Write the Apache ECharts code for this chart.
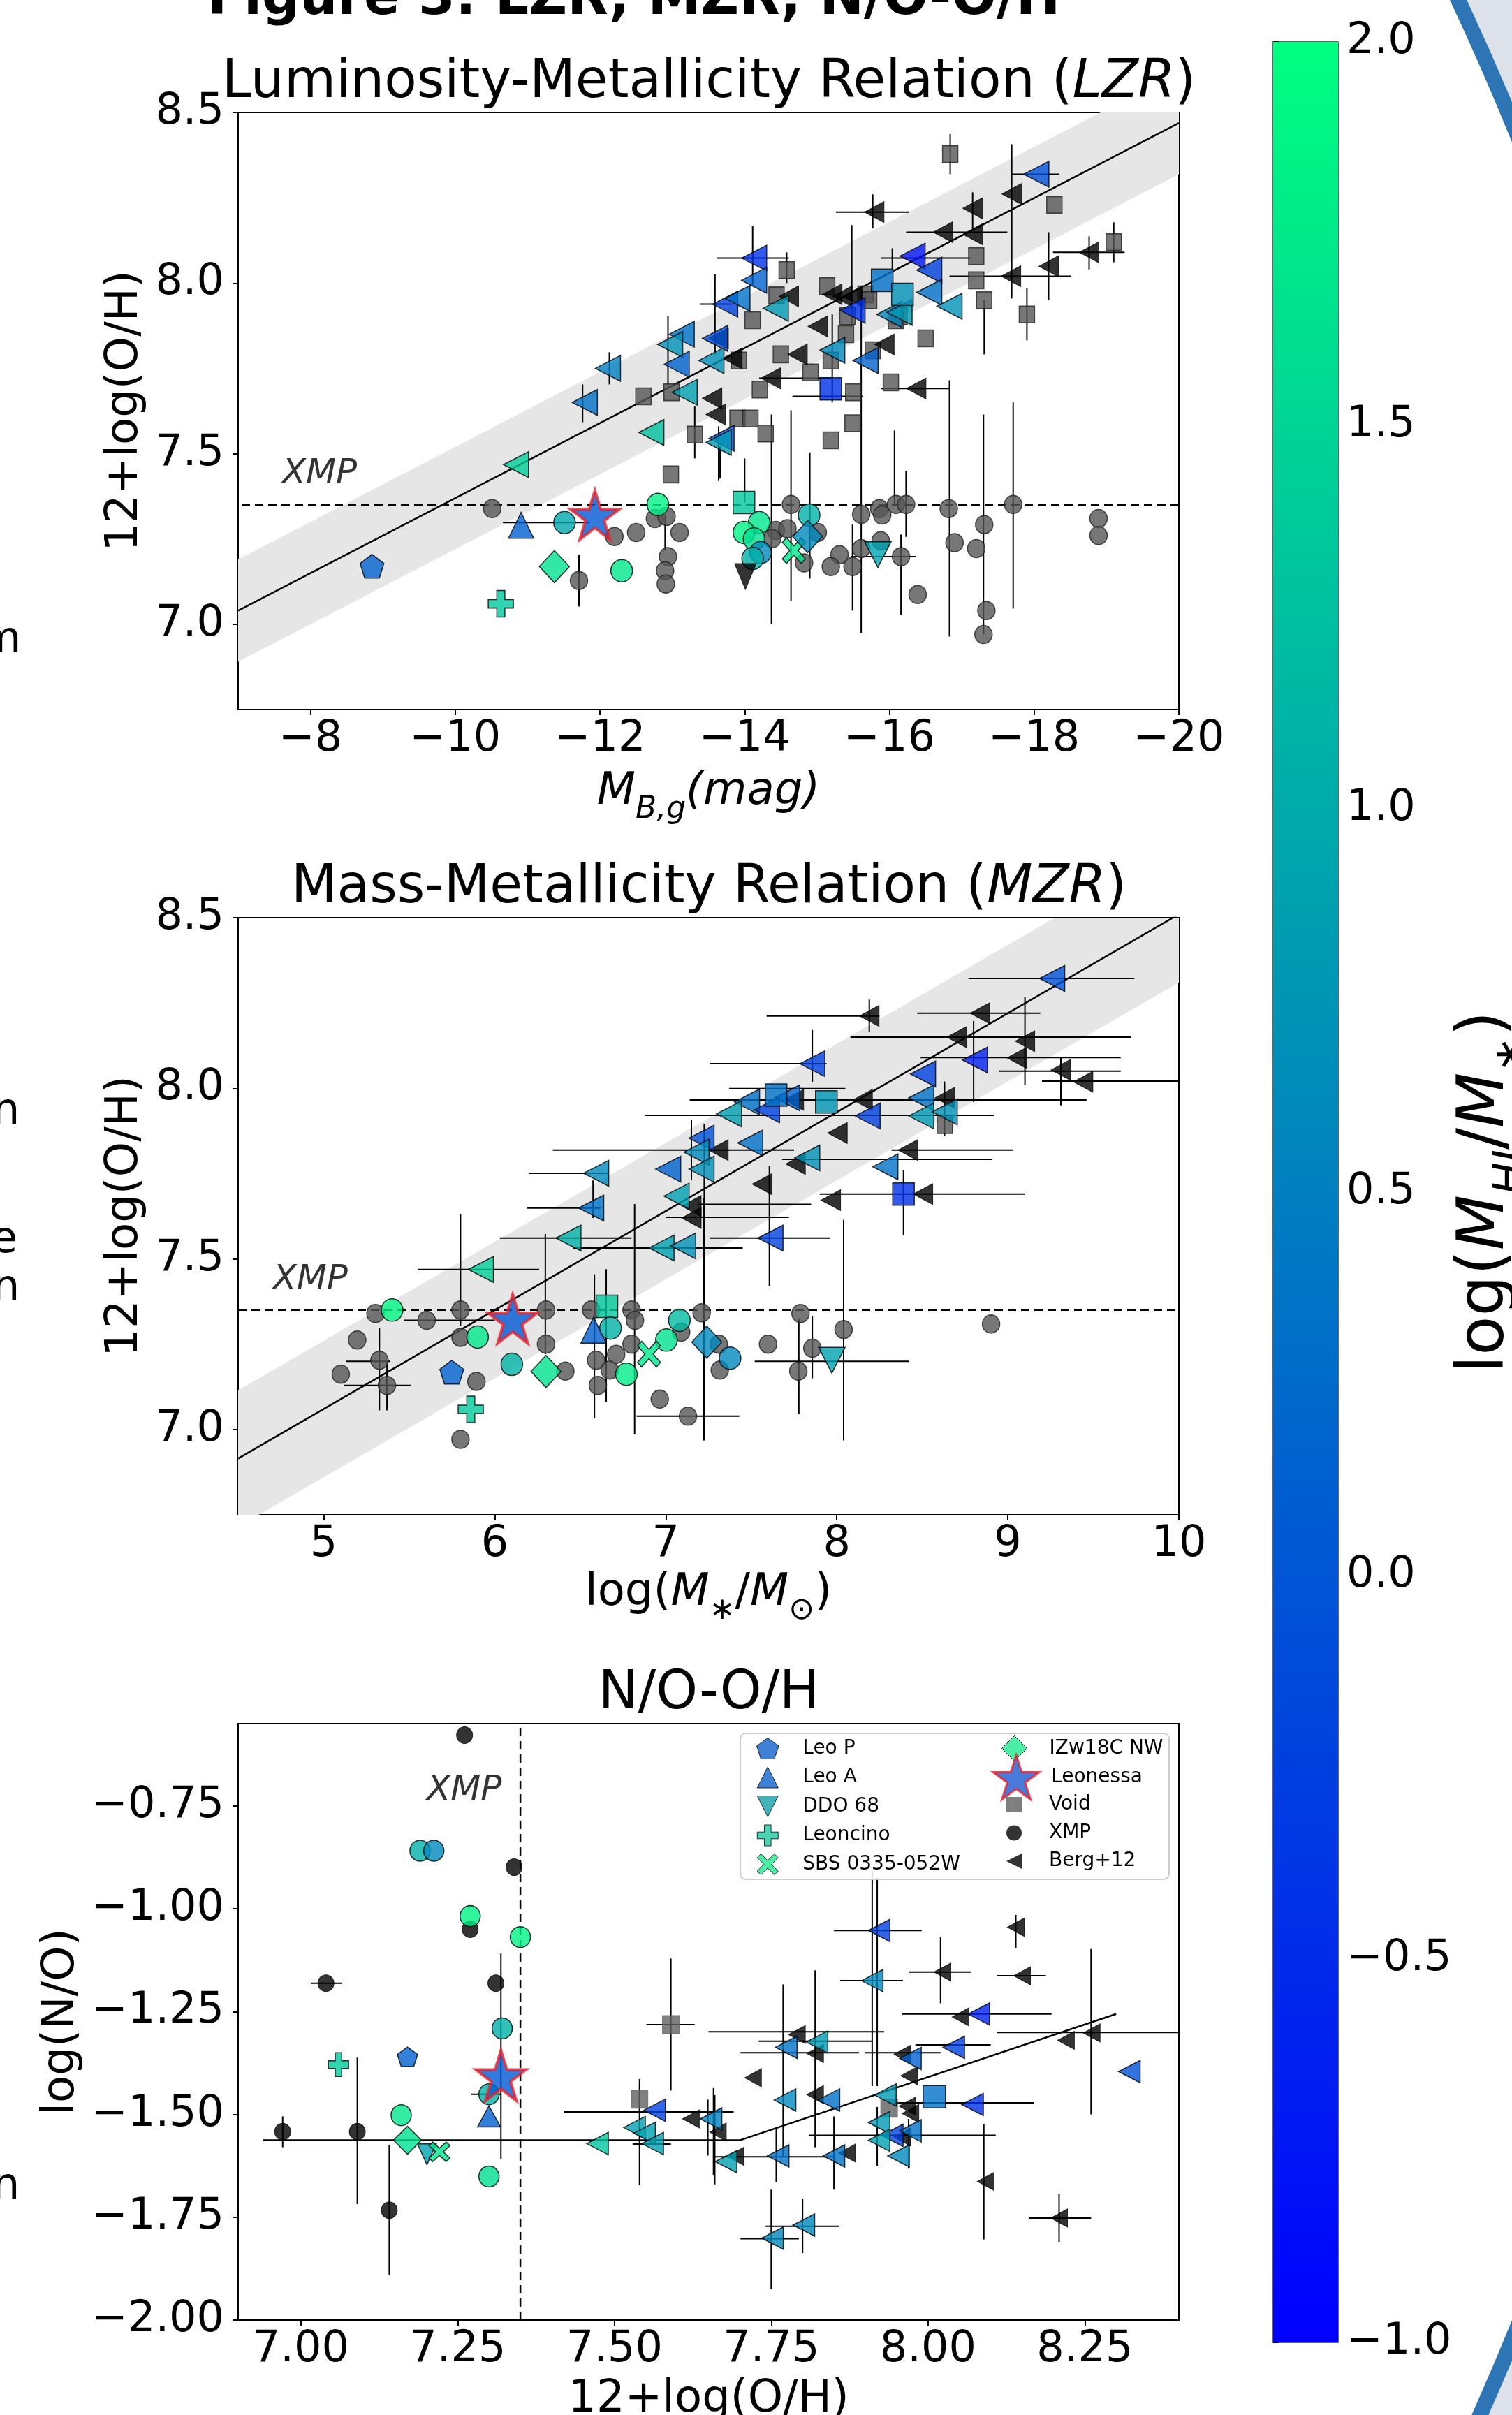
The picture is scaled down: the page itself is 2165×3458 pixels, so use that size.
<!DOCTYPE html>
<html><head><meta charset="utf-8">
<script src="https://cdn.jsdelivr.net/npm/echarts@6/dist/echarts.min.js"></script>
<style>html,body{margin:0;padding:0;background:#fff}#c{width:2165px;height:3458px}</style>
</head><body><div id="c"></div>
<script>
// ---------------- DATA ----------------
const FONT = 'DejaVu Sans';
const xmpThreshold = 7.35;
// colour-bar range log(M_HI/M*)
const cbarMin = -1, cbarMax = 2;
const cbarTicks = [-1, -0.5, 0, 0.5, 1, 1.5, 2];

// ---- Panel 1 : LZR  (x = M_B,g , y = 12+log(O/H)) ----
const lzrXTicks = [-8, -10, -12, -14, -16, -18, -20];
const ohTicks = [7.0, 7.5, 8.0, 8.5];
const lzrFit = [[-7, 7.04], [-20, 8.469]];
const lzrBandUpper = [[-7, 7.19], [-20, 8.619]];
const lzrBandLower = [[-7, 6.89], [-20, 8.319]];
const lzrXmpText = [[-7.6, 7.439]];
const lzrXMP = [[-10.51,7.339],[-12.20,7.257],[-12.50,7.269],[-12.76,7.31],[-12.92,7.316],[-13.10,7.269],[-12.94,7.198],[-12.90,7.157],[-12.91,7.118],[-11.71,7.128],
 [-14.64,7.351],[-14.43,7.275],[-14.38,7.251],[-14.59,7.28],[-15.01,7.269],[-15.61,7.322],[-15.86,7.339],[-15.90,7.32],[-16.09,7.351],[-16.23,7.351],[-16.82,7.339],[-17.71,7.351],
 [-15.31,7.204],[-15.19,7.169],[-15.49,7.169],[-15.61,7.222],[-15.88,7.245],[-16.16,7.198],[-16.90,7.239],[-17.20,7.222],[-17.31,7.292],[-16.39,7.087],[-17.34,7.04],[-17.30,6.97],
 [-18.89,7.31],[-18.89,7.26],[-14.82,7.18]];
const lzrXMPC = [[-11.51,7.298,0.95],[-12.80,7.351,1.85],[-12.30,7.157,1.75],[-14.20,7.298,1.7],[-13.99,7.269,1.85],[-14.13,7.25,1.6],[-14.22,7.21,0.6],[-14.11,7.193,1.07],[-14.89,7.32,1.07]];
const lzrVoid = [[-16.84,8.378],[-18.28,8.229],[-19.10,8.12],[-17.20,8.079],[-17.20,8.008],[-17.31,7.95],[-17.90,7.908],[-14.58,8.038],[-14.11,7.891],[-14.44,7.964],[-15.14,7.991],
 [-15.67,7.967],[-15.72,7.95],[-15.42,7.903],[-15.40,7.85],[-16.14,7.903],[-16.09,7.891],[-16.50,7.838],[-14.50,7.791],[-13.92,7.773],[-14.91,7.738],[-15.19,7.773],[-14.21,7.688],
 [-15.50,7.68],[-16.02,7.709],[-13.90,7.603],[-14.08,7.603],[-14.29,7.559],[-15.49,7.589],[-15.19,7.539],[-15.77,7.803],[-12.60,7.668],[-12.99,7.68],[-13.31,7.556],[-12.98,7.439]];
const lzrVoidC = [[-15.19,7.69,-0.43],[-15.90,8.008,0.32],[-16.18,7.967,0.7],[-13.99,7.357,1.35]];
const lzrBerg = [[-17.69,8.261],[-17.15,8.219],[-16.74,8.149],[-17.15,8.143],[-15.79,8.208],[-18.20,8.049],[-18.76,8.09],[-17.68,8.02],[-15.01,7.873],[-14.61,7.961],[-15.21,7.967],
 [-15.35,7.961],[-15.49,7.961],[-15.93,7.82],[-14.73,7.791],[-13.83,7.779],[-14.36,7.721],[-16.37,7.691],[-13.55,7.662],[-13.60,7.615],[-13.64,7.838]];
const lzrBergC = [[-12.11,7.75,0.5],[-11.79,7.65,0.32],[-10.84,7.468,1.45],[-13.13,7.85,0.32],[-12.97,7.82,0.7],[-13.06,7.762,0.13],[-13.17,7.68,0.88],[-12.71,7.562,1.26],
 [-13.59,7.838,-0.06],[-13.54,7.773,0.7],[-13.73,7.938,-0.25],[-13.68,7.545,-0.06],[-13.64,7.533,0.8],[-14.13,8.073,-0.43],[-14.13,8.008,0.13],[-13.90,7.955,0.32],[-14.43,7.926,0.8],
 [-15.49,7.92,-0.43],[-15.21,7.803,0.6],[-15.67,7.773,0.13],[-16.00,7.908,0.6],[-16.14,7.914,0.8],[-16.32,8.079,-0.75],[-16.55,8.038,-0.25],[-16.55,7.973,0.32],[-16.83,7.932,0.7],[-18.03,8.319,-0.06]];
const lzrLeoP = [[-8.85,7.17,0.15]];
const lzrLeoA = [[-10.91,7.29,0.1]];
const lzrDDO68 = [[-15.84,7.204,0.9]];
const lzrLeoncino = [[-10.63,7.06,1.35]];
const lzrSBS = [[-14.68,7.216,1.7]];
const lzrIZw = [[-11.37,7.169,1.65],[-14.87,7.257,0.6]];
const lzrLeonessa = [[-11.93,7.32,0.05]];
const lzrLimit = [[-14.01,7.14]];
const lzrErrH = [[7.298,-10.66,-11.85],[7.938,-13.38,-13.82],[8.319,-17.68,-18.35],[8.149,-16.23,-17.63],[8.208,-15.26,-16.27],[8.02,-16.83,-18.51],[8.09,-18.26,-19.25],
 [8.073,-13.62,-14.61],[8.073,-15.88,-17.13],[7.691,-15.88,-16.83],[7.668,-14.66,-15.63],[7.721,-14.2,-15.21],[7.198,-15.47,-16.37]];
const lzrErrV = [[-11.71,7.204,7.052],[-12.13,7.797,7.703],[-11.76,7.703,7.592],[-12.94,7.903,7.697],[-13.31,7.638,7.486],[-13.59,8.026,7.791],[-13.66,7.521,7.427],[-12.9,7.32,7.216],
 [-16.84,8.437,8.319],[-17.69,8.407,7.955],[-17.15,8.266,8.155],[-15.77,8.26,8.16],[-18.20,8.149,7.95],[-18.76,8.137,8.04],[-19.10,8.178,8.061],[-17.31,7.95,7.791],[-17.90,7.985,7.832],
 [-14.11,8.167,7.99],[-14.58,8.09,8.0],[-16.04,8.102,8.038],[-16.83,7.715,6.964],[-17.71,7.65,7.046],[-17.30,7.615,6.97],[-15.61,7.991,6.975],[-15.48,8.17,7.88],[-16.16,7.263,7.028],
 [-16.07,7.568,7.345],[-16.23,7.45,7.256],[-14.37,7.615,7.0],[-14.64,7.627,7.069],[-14.9,7.504,7.134],[-15.49,7.292,7.04],[-14.0,7.486,7.357],[-13.64,7.58,7.42],[-15.21,7.908,7.65]];

// ---- Panel 2 : MZR (x = log M*/Msun) ----
const mzrXTicks = [5, 6, 7, 8, 9, 10];
const mzrFit = [[4.5, 6.915], [10, 8.51]];
const mzrBandUpper = [[4.5, 7.115], [10, 8.71]];
const mzrBandLower = [[4.5, 6.715], [10, 8.31]];
const mzrXmpText = [[4.70, 7.437]];
const mzrXMP = [[5.303,7.34],[5.196,7.262],[5.10,7.162],[5.326,7.203],[5.37,7.129],[5.602,7.32],[5.80,7.35],[5.80,7.27],[5.893,7.141],[5.80,6.971],[6.30,7.35],[6.30,7.25],
 [6.413,7.171],[6.564,7.35],[6.593,7.203],[6.603,7.129],[6.672,7.174],[6.71,7.22],[6.80,7.35],[6.82,7.32],[6.80,7.25],[6.965,7.089],[7.09,7.285],[7.13,7.039],[7.21,7.342],
 [7.31,7.25],[7.316,7.174],[7.788,7.34],[7.598,7.25],[7.857,7.238],[7.775,7.171],[8.04,7.293],[8.902,7.309]];
const mzrXMPC = [[5.40,7.35,1.9],[5.90,7.271,1.75],[6.10,7.191,1.1],[6.677,7.297,1.07],[6.77,7.162,1.8],[7.004,7.262,1.65],[7.08,7.32,1.2],[7.376,7.209,0.6]];
const mzrVoid = [[8.631,7.892]];
const mzrVoidC = [[8.39,7.69,-0.43],[7.645,7.98,0.32],[7.939,7.96,0.75],[6.656,7.361,1.35]];
const mzrBerg = [[8.19,8.212],[8.837,8.22],[8.70,8.15],[9.10,8.138],[9.053,8.089],[9.31,8.054],[9.44,8.019],[8.631,7.972],[8.151,7.966],[7.749,7.966],[8.004,7.869],[7.308,7.819],
 [7.759,7.778],[8.416,7.819],[7.563,7.719],[7.965,7.672],[8.504,7.69],[7.15,7.655],[7.15,7.62]];
const mzrBergC = [[9.259,8.322,-0.06],[7.857,8.072,-0.25],[8.808,8.083,-0.62],[8.504,8.042,-0.25],[7.71,7.972,0.13],[7.475,7.96,0.32],[7.592,7.937,-0.25],[8.18,7.919,-0.25],
 [8.494,7.972,0.32],[8.494,7.919,0.8],[8.631,7.931,0.7],[7.494,7.84,0.32],[7.827,7.796,0.7],[8.284,7.77,0.32],[7.612,7.561,-0.25],[6.593,7.751,0.6],[6.564,7.649,0.32],[6.431,7.561,1.07],
 [5.919,7.469,1.45],[7.209,7.854,-0.06],[7.18,7.813,0.6],[7.014,7.763,0.13],[7.209,7.763,0.7],[7.063,7.684,0.88],[6.975,7.532,0.88],[7.102,7.538,0.7],[7.37,7.925,0.88]];
const mzrLeoP = [[5.749,7.168,0.15]];
const mzrLeoA = [[6.578,7.291,0.1]];
const mzrDDO68 = [[7.971,7.203,0.9]];
const mzrLeoncino = [[5.86,7.059,1.35]];
const mzrSBS = [[6.902,7.221,1.7]];
const mzrIZw = [[6.30,7.17,1.65],[7.24,7.256,0.6]];
const mzrLeonessa = [[6.105,7.324,0.05]];
const mzrErrH = [[7.751,6.20,6.66],[7.649,6.19,6.62],[7.561,6.03,6.80],[7.469,5.55,6.26],[7.819,6.34,7.75],[7.819,8.32,9.03],[7.921,6.88,8.92],[7.966,7.14,9.46],[8.072,7.26,7.94],
 [7.532,6.46,7.45],[7.32,5.47,6.0],[7.129,5.12,5.51],[7.2,5.13,5.39],[7.039,6.83,7.43],[8.322,8.77,9.74],[8.212,7.59,8.25],[8.22,8.47,9.19],[8.15,8.08,9.72],[8.09,8.49,9.66],
 [8.05,8.95,9.66],[7.999,7.37,8.05],[7.792,7.68,8.91],[7.66,7.19,7.85],[7.69,7.90,9.10],[7.561,7.26,7.96],[7.2,7.52,8.42],[7.622,7.0,7.72],[8.021,9.2,10.0]];
const mzrErrV = [[9.10,8.268,8.009],[8.80,8.197,7.96],[9.31,8.09,7.95],[8.39,7.76,7.57],[7.606,7.772,7.42],[8.04,7.614,6.968],[7.22,7.678,6.968],[7.778,7.326,7.045],[7.857,7.332,7.15],
 [7.857,8.171,8.019],[8.19,8.26,8.165],[5.80,7.631,7.303],[6.296,7.573,7.221],[6.583,7.455,7.033],[6.652,7.47,7.08],[5.326,7.297,7.056],[5.37,7.2,7.056],[6.818,7.661,6.986],
 [7.225,7.896,6.968],[7.15,7.908,7.73],[8.63,8.02,7.86],[6.575,7.73,7.62]];

// ---- Panel 3 : N/O vs O/H ----
const noXTicks = [7.0, 7.25, 7.5, 7.75, 8.0, 8.25];
const noYTicks = [-2.0, -1.75, -1.5, -1.25, -1.0, -0.75];
const noFit = [[6.94,-1.563],[7.70,-1.563],[8.30,-1.256]];
const noXmpText = [[7.20, -0.713]];
const noXMP = [[7.261,-0.578],[7.340,-0.899],[7.270,-1.05],[7.04,-1.181],[7.311,-1.181],[6.971,-1.542],[7.09,-1.542],[7.141,-1.733]];
const noXMPC = [[7.19,-0.859,1.07],[7.212,-0.859,0.6],[7.27,-1.018,1.85],[7.35,-1.069,1.85],[7.321,-1.291,1.07],[7.30,-1.451,1.07],[7.16,-1.502,1.75],[7.30,-1.651,1.6]];
const noVoid = [[7.59,-1.282],[7.54,-1.463],[7.938,-1.485]];
const noVoidC = [[8.01,-1.457,0.32]];
const noBerg = [[7.622,-1.511],[7.665,-1.543],[8.14,-1.045],[8.023,-1.154],[8.15,-1.163],[8.052,-1.263],[7.791,-1.306],[7.82,-1.352],[7.959,-1.354],[7.97,-1.406],[7.721,-1.411],
 [7.82,-1.452],[7.967,-1.48],[7.972,-1.498],[8.22,-1.32],[8.261,-1.302],[7.693,-1.602],[7.871,-1.594],[8.092,-1.663],[8.209,-1.752],[7.959,-1.555]];
const noBergC = [[7.564,-1.49,-0.25],[7.473,-1.571,1.3],[7.532,-1.532,0.88],[7.548,-1.546,0.88],[7.561,-1.571,0.88],[7.654,-1.511,0.5],[7.678,-1.615,0.88],
 [7.922,-1.053,-0.25],[7.911,-1.175,0.6],[8.081,-1.256,-0.62],[8.041,-1.337,-0.25],[7.774,-1.337,0.32],[7.823,-1.324,0.8],[7.972,-1.364,0.13],[7.772,-1.465,0.6],[7.842,-1.465,0.32],
 [7.932,-1.453,0.8],[8.071,-1.476,-0.43],[8.321,-1.396,-0.06],[7.922,-1.52,0.8],[7.943,-1.551,-0.25],[7.972,-1.54,0.32],[7.922,-1.563,0.88],[7.761,-1.601,0.32],[7.85,-1.601,0.32],
 [7.953,-1.601,0.6],[7.802,-1.769,0.6],[7.752,-1.801,0.6]];
const noLeoP = [[7.17,-1.36,0.15]];
const noLeoA = [[7.30,-1.505,0.1]];
const noDDO68 = [[7.201,-1.597,0.9]];
const noLeoncino = [[7.06,-1.379,1.35]];
const noSBS = [[7.221,-1.591,1.7]];
const noIZw = [[7.17,-1.563,1.65]];
const noLeonessa = [[7.319,-1.406,0.05]];
const noErrH = [[-1.181,7.016,7.066],[-1.451,7.271,7.319],[-1.282,7.551,7.628],[-1.572,7.529,7.59],[-1.494,7.42,7.69],[-1.053,7.85,7.99],[-1.175,7.86,7.96],[-1.154,7.97,8.068],
 [-1.163,8.11,8.188],[-1.256,7.959,8.197],[-1.299,7.65,7.93],[-1.322,7.73,7.91],[-1.35,7.701,7.89],[-1.331,7.98,8.1],[-1.35,7.90,8.02],[-1.301,8.11,8.40],[-1.472,7.938,8.169],
 [-1.752,8.161,8.26],[-1.551,7.81,8.108],[-1.603,7.66,7.85],[-1.802,7.701,7.794],[-1.772,7.741,7.858]];
const noErrV = [[7.09,-1.362,-1.718],[6.971,-1.505,-1.58],[7.141,-1.574,-1.89],[7.319,-1.109,-1.609],[7.59,-1.121,-1.442],[7.54,-1.414,-1.672],[7.649,-1.464,-1.60],[7.66,-1.453,-1.67],
 [7.911,-0.908,-1.431],[7.919,-0.925,-1.431],[8.02,-1.069,-1.23],[8.14,-1.015,-1.095],[7.769,-1.184,-1.603],[7.82,-1.15,-1.58],[8.26,-1.098,-1.5],[8.089,-1.523,-1.804],
 [8.209,-1.694,-1.81],[7.85,-1.505,-1.683],[7.919,-1.482,-1.625],[7.969,-1.511,-1.632],[7.758,-1.532,-1.664],[7.658,-1.436,-1.648],[7.75,-1.683,-1.925],[7.80,-1.705,-1.837]];

// ---------------- SYMBOLS ----------------
const SYM = {
  left: 'path://M0,50 L100,0 L100,100 Z',
  down: 'path://M0,0 L100,0 L50,100 Z',
  up: 'path://M50,0 L100,100 L0,100 Z',
  pent: 'path://M50,0 L97.55,34.55 L79.39,90.45 L20.61,90.45 L2.45,34.55 Z',
  star: 'path://M50,0 L61.2,34.5 L97.6,34.5 L68.2,55.9 L79.4,90.5 L50,69.1 L20.6,90.5 L31.8,55.9 L2.4,34.5 L38.8,34.5 Z',
  plus: 'path://M34,0 H66 V34 H100 V66 H66 V100 H34 V66 H0 V34 H34 Z',
  cross: 'path://M0,18 L18,0 L50,32 L82,0 L100,18 L68,50 L100,82 L82,100 L50,68 L18,100 L0,82 L32,50 Z',
  diam: 'path://M50,0 L100,50 L50,100 L0,50 Z',
  sq: 'path://M0,0 H100 V100 H0 Z'
};

// ---------------- BUILD ----------------
const series = [];
const colored = [];
function add(s, isColored) { if (isColored) colored.push(series.length); series.push(s); }
function sc(g, name, data, symbol, size, style, z) {
  return {type: 'scatter', name, xAxisIndex: g, yAxisIndex: g, data, symbol, symbolSize: size,
    itemStyle: style, z, emphasis: {disabled: true}, silent: true};
}
const edge = {borderColor: '#000', borderWidth: 1.5};
function errSeries(g, h, v) {
  const segs = h.map(e => [e[1], e[0], e[2], e[0]]).concat(v.map(e => [e[0], e[1], e[0], e[2]]));
  return {type: 'custom', xAxisIndex: g, yAxisIndex: g, data: segs, clip: true, z: 2, silent: true,
    encode: {x: [0, 2], y: [1, 3]},
    renderItem: (params, api) => {
      const a = api.coord([api.value(0), api.value(1)]);
      const b = api.coord([api.value(2), api.value(3)]);
      return {type: 'line', shape: {x1: a[0], y1: a[1], x2: b[0], y2: b[1]}, style: {stroke: '#000', lineWidth: 2}};
    }};
}
function bandSeries(g, up, lo) {
  return {type: 'custom', xAxisIndex: g, yAxisIndex: g, data: up.concat(lo), clip: true, z: 1, silent: true,
    renderItem: (params, api) => {
      if (params.dataIndex !== 0) return null;
      const pts = [api.coord(up[0]), api.coord(up[1]), api.coord(lo[1]), api.coord(lo[0])];
      return {type: 'polygon', shape: {points: pts}, style: {fill: '#e6e6e6'}};
    }};
}
function lineSeries(g, data, dashed) {
  return {type: 'line', xAxisIndex: g, yAxisIndex: g, data, symbol: 'none', silent: true, z: 3,
    lineStyle: {color: '#000', width: 2.5, type: dashed ? [12, 7] : 'solid'}};
}
function textSeries(g, data) {
  return {type: 'scatter', xAxisIndex: g, yAxisIndex: g, data, symbolSize: 1, silent: true, z: 3,
    itemStyle: {color: 'rgba(0,0,0,0)'},
    label: {show: true, formatter: 'XMP', position: 'right', distance: 0, color: '#000',
      fontSize: 50, fontStyle: 'italic', fontFamily: FONT}};
}

const panels = [
  {g: 0, band: [lzrBandUpper, lzrBandLower], fit: lzrFit, dashX: [[-20, xmpThreshold], [-7, xmpThreshold]], txt: lzrXmpText,
   eh: lzrErrH, ev: lzrErrV, xmp: lzrXMP, xmpC: lzrXMPC, vd: lzrVoid, vdC: lzrVoidC, berg: lzrBerg, bergC: lzrBergC,
   leoP: lzrLeoP, leoA: lzrLeoA, ddo: lzrDDO68, leon: lzrLeoncino, sbs: lzrSBS, izw: lzrIZw, star: lzrLeonessa, big: true},
  {g: 1, band: [mzrBandUpper, mzrBandLower], fit: mzrFit, dashX: [[4.5, xmpThreshold], [10, xmpThreshold]], txt: mzrXmpText,
   eh: mzrErrH, ev: mzrErrV, xmp: mzrXMP, xmpC: mzrXMPC, vd: mzrVoid, vdC: mzrVoidC, berg: mzrBerg, bergC: mzrBergC,
   leoP: mzrLeoP, leoA: mzrLeoA, ddo: mzrDDO68, leon: mzrLeoncino, sbs: mzrSBS, izw: mzrIZw, star: mzrLeonessa, big: true},
  {g: 2, band: null, fit: noFit, dashX: [[xmpThreshold, -2.0], [xmpThreshold, -0.55]], txt: noXmpText,
   eh: noErrH, ev: noErrV, xmp: noXMP, xmpC: noXMPC, vd: noVoid, vdC: noVoidC, berg: noBerg, bergC: noBergC,
   leoP: noLeoP, leoA: noLeoA, ddo: noDDO68, leon: noLeoncino, sbs: noSBS, izw: noIZw, star: noLeonessa, big: false}
];

panels.forEach(p => {
  const g = p.g, B = p.big;
  if (p.band) add(bandSeries(g, p.band[0], p.band[1]));
  add(lineSeries(g, p.fit, false));
  add(lineSeries(g, p.dashX, true));
  add(textSeries(g, p.txt));
  add(errSeries(g, p.eh, p.ev));
  add(sc(g, 'XMP', p.xmp, 'circle', B ? [25, 26] : [23, 24],
    B ? {color: '#555555', borderColor: '#222', borderWidth: 1.5} : {color: '#000', borderColor: '#000', borderWidth: 1}, 3));
  add(sc(g, 'Void', p.vd, 'rect', B ? [22, 24] : [24, 26],
    B ? {color: '#555555', borderColor: '#222', borderWidth: 1.5} : {color: '#606060', borderColor: '#606060', borderWidth: 1}, 3));
  add(sc(g, 'Berg+12', p.berg, SYM.left, B ? [28, 30] : [24, 26], {color: '#000', borderColor: '#000', borderWidth: 1}, 3));
  add(sc(g, 'Berg+12', p.bergC, SYM.left, B ? [36, 37] : [31, 32], edge, 4), true);
  add(sc(g, 'Void', p.vdC, 'rect', B ? [31, 32] : [32, 32], edge, 4), true);
  add(sc(g, 'XMP', p.xmpC, 'circle', B ? [31, 32] : [29, 30], edge, 4), true);
  add(sc(g, 'Leo P', p.leoP, SYM.pent, B ? [34, 34] : [29, 28], edge, 5), true);
  add(sc(g, 'Leo A', p.leoA, SYM.up, B ? [36, 37] : [33, 30], edge, 5), true);
  add(sc(g, 'DDO 68', p.ddo, SYM.down, B ? [38, 37] : [27, 30], edge, 5), true);
  add(sc(g, 'Leoncino', p.leon, SYM.plus, B ? [36, 38] : [29, 34], edge, 5), true);
  add(sc(g, 'SBS 0335-052W', p.sbs, SYM.cross, B ? [33, 37] : [30, 28], edge, 5), true);
  add(sc(g, 'IZw18C NW', p.izw, 'diamond', B ? [43, 46] : [40, 40], edge, 5), true);
  add(sc(g, 'Leonessa', p.star, SYM.star, B ? [70, 70] : [72, 72], {borderColor: '#e8202a', borderWidth: 4}, 6), true);
});
add(sc(0, 'limit', lzrLimit, SYM.down, [31, 37], {color: '#000', borderColor: '#000', borderWidth: 1}, 4));

// colour bar (custom rect through the colour-bar axes)
add({type: 'custom', xAxisIndex: 3, yAxisIndex: 3, data: [[0, cbarMin], [1, cbarMax]], silent: true, z: 1,
  renderItem: (params, api) => {
    if (params.dataIndex !== 0) return null;
    const a = api.coord([0, cbarMax]), b = api.coord([1, cbarMin]);
    return {type: 'rect', shape: {x: a[0], y: a[1], width: b[0] - a[0], height: b[1] - a[1]},
      style: {fill: new echarts.graphic.LinearGradient(0, 0, 0, 1, [{offset: 0, color: '#00ff80'}, {offset: 1, color: '#0000ff'}])}};
  }});

// ---------------- AXES ----------------
const fmt = d => v => (v < -1e-9 ? '\u2212' : '') + Math.abs(v).toFixed(d);
const richName = (base, sub, pad, lh) => ({
  n: {fontSize: base, fontFamily: FONT, color: '#000', verticalAlign: 'top', lineHeight: lh},
  i: {fontSize: base, fontFamily: FONT, color: '#000', fontStyle: 'italic', verticalAlign: 'top', lineHeight: lh},
  s: {fontSize: sub, fontFamily: FONT, color: '#000', fontStyle: 'italic', verticalAlign: 'top', lineHeight: sub, padding: [pad, 0, 0, 0]}
});
function ax(o) {
  const ticks = o.ticks;
  return Object.assign({
    type: 'value', gridIndex: o.g,
    axisLine: {show: true, onZero: false, lineStyle: {color: '#000', width: 2}},
    axisTick: {show: true, inside: false, length: 8, customValues: ticks, lineStyle: {color: '#000', width: 2}},
    splitLine: {show: false},
    axisLabel: {customValues: ticks, formatter: fmt(o.d), color: '#000', fontSize: 62, fontFamily: FONT, margin: o.margin},
    nameLocation: 'middle',
    nameTextStyle: {color: '#000', fontSize: 64, fontFamily: FONT}
  }, o.extra);
}
const xRich = {color: '#000', rich: richName(64, 44, 36, 70)};

// legend helper: icons keep aspect and sit centred in a 90px-wide slot
const legendText = {fontSize: 28, fontFamily: FONT, color: '#000', lineHeight: 30};
function legendBlock(slotLeft, top, iconSize, items) {
  return {left: slotLeft + (90 - iconSize) / 2, top, orient: 'vertical', align: 'left', itemWidth: 90,
    itemHeight: iconSize, itemGap: 10.5, padding: 0, selectedMode: false, z: 10, textStyle: legendText, data: items};
}

const gridBase = {show: true, borderColor: '#000', borderWidth: 2, containLabel: false, outerBoundsMode: 'none'};
const option = {
  animation: false,
  backgroundColor: '#dce1ea',
  textStyle: {fontFamily: FONT},
  grid: [
    Object.assign({left: 341, top: 161, width: 1347, height: 855}, gridBase),
    Object.assign({left: 341, top: 1314, width: 1347, height: 855}, gridBase),
    Object.assign({left: 341, top: 2468, width: 1347, height: 854}, gridBase),
    Object.assign({}, gridBase, {left: 1823, top: 60, width: 93, height: 3294, borderColor: '#333', borderWidth: 1.5})
  ],
  xAxis: [
    ax({g: 0, ticks: lzrXTicks, d: 0, margin: 12, extra: {min: -20, max: -7, inverse: true,
      name: '{i|M}{s|B,g}{i|(mag)}', nameGap: 86, nameTextStyle: xRich}}),
    ax({g: 1, ticks: mzrXTicks, d: 0, margin: 12, extra: {min: 4.5, max: 10,
      name: '{n|log(}{i|M}{s|\u2217}{n|/}{i|M}{s|\u2299}{n|)}', nameGap: 80, nameTextStyle: xRich}}),
    ax({g: 2, ticks: noXTicks, d: 2, margin: 12, extra: {min: 6.9, max: 8.4,
      name: '12+log(O/H)', nameGap: 82}}),
    {type: 'value', gridIndex: 3, min: 0, max: 1, show: false}
  ],
  yAxis: [
    ax({g: 0, ticks: ohTicks, d: 1, margin: 20, extra: {min: 6.75, max: 8.5, name: '12+log(O/H)', nameGap: 106}}),
    ax({g: 1, ticks: ohTicks, d: 1, margin: 20, extra: {min: 6.75, max: 8.5, name: '12+log(O/H)', nameGap: 106}}),
    ax({g: 2, ticks: noYTicks, d: 2, margin: 20, extra: {min: -2.0, max: -0.55, name: 'log(N/O)', nameGap: 142}}),
    ax({g: 3, ticks: cbarTicks, d: 1, margin: 12, extra: {min: cbarMin, max: cbarMax, position: 'right',
      axisLine: {show: false}, name: '{n|log(}{i|M}{s|HI}{n|/}{i|M}{s|\u2217}{n|)}', nameGap: 156, nameRotate: 90,
      nameTextStyle: {color: '#000', rich: richName(92, 62, 52, 100)}}})
  ],
  visualMap: {type: 'continuous', show: false, min: cbarMin, max: cbarMax, dimension: 2,
    seriesIndex: colored, inRange: {color: ['#0000ff', '#00ff80']}},
  legend: [
    legendBlock(1053, 2488, 30, [
      {name: 'Leo P', icon: SYM.pent, itemStyle: {color: '#1060cc', borderColor: '#000', borderWidth: 1}},
      {name: 'Leo A', icon: SYM.up, itemStyle: {color: '#1060cc', borderColor: '#000', borderWidth: 1}},
      {name: 'DDO 68', icon: SYM.down, itemStyle: {color: '#12a0a8', borderColor: '#000', borderWidth: 1}},
      {name: 'Leoncino', icon: SYM.plus, itemStyle: {color: '#20c8a0', borderColor: '#000', borderWidth: 1}},
      {name: 'SBS 0335-052W', icon: SYM.cross, itemStyle: {color: '#20e890', borderColor: '#000', borderWidth: 1}}]),
    legendBlock(1407, 2485, 36, [
      {name: 'IZw18C NW', icon: SYM.diam, itemStyle: {color: '#20e890', borderColor: '#000', borderWidth: 1}}]),
    legendBlock(1407, 2512, 63, [
      {name: 'Leonessa', icon: SYM.star, itemStyle: {color: '#1a5ad0', borderColor: '#e8202a', borderWidth: 3}}]),
    legendBlock(1407, 2569, 22, [
      {name: 'Void', icon: SYM.sq, itemStyle: {color: '#606060', borderColor: '#606060', borderWidth: 0}},
      {name: 'XMP', icon: 'circle', itemStyle: {color: '#000', borderColor: '#000', borderWidth: 0}},
      {name: 'Berg+12', icon: SYM.left, itemStyle: {color: '#000', borderColor: '#000', borderWidth: 0}}])
  ],
  graphic: {elements: [
    {type: 'circle', z: -100, silent: true, shape: {cx: -1682, cy: 1763, r: 4162},
     style: {fill: '#ffffff', stroke: '#2e75b6', lineWidth: 22}},
    {type: 'rect', z: 9, silent: true, shape: {x: 1060, y: 2482, width: 614, height: 209, r: 8},
     style: {fill: 'rgba(255,255,255,0.85)', stroke: '#cccccc', lineWidth: 2}},
    {type: 'text', z: 5, silent: true, x: 297, y: 38, style: {text: 'Figure 3: LZR, MZR, N/O-O/H', fontSize: 76, fontWeight: 'bold',
      fontFamily: FONT, fill: '#000', align: 'left', verticalAlign: 'bottom', textAlign: 'left', textVerticalAlign: 'bottom'}},
    {type: 'text', z: 5, silent: true, x: 1015, y: 119, style: {text: '{n|Luminosity-Metallicity Relation (}{i|LZR}{n|)}',
      rich: {n: {fontSize: 76, fontFamily: FONT}, i: {fontSize: 76, fontFamily: FONT, fontStyle: 'italic'}},
      fill: '#000', align: 'center', verticalAlign: 'middle', textAlign: 'center', textVerticalAlign: 'middle'}},
    {type: 'text', z: 5, silent: true, x: 1015, y: 1272, style: {text: '{n|Mass-Metallicity Relation (}{i|MZR}{n|)}',
      rich: {n: {fontSize: 76, fontFamily: FONT}, i: {fontSize: 76, fontFamily: FONT, fontStyle: 'italic'}},
      fill: '#000', align: 'center', verticalAlign: 'middle', textAlign: 'center', textVerticalAlign: 'middle'}},
    {type: 'text', z: 5, silent: true, x: 1015, y: 2426, style: {text: 'N/O-O/H', fontSize: 76, fontFamily: FONT,
      fill: '#000', align: 'center', verticalAlign: 'middle', textAlign: 'center', textVerticalAlign: 'middle'}},
    {type: 'text', z: 5, silent: true, x: -30, y: 918, style: {text: 'm', fontSize: 62, fontFamily: FONT, fill: '#000', verticalAlign: 'middle', textVerticalAlign: 'middle'}},
    {type: 'text', z: 5, silent: true, x: -11, y: 1593, style: {text: 'n', fontSize: 62, fontFamily: FONT, fill: '#000', verticalAlign: 'middle', textVerticalAlign: 'middle'}},
    {type: 'text', z: 5, silent: true, x: -13, y: 1777, style: {text: 'e', fontSize: 62, fontFamily: FONT, fill: '#000', verticalAlign: 'middle', textVerticalAlign: 'middle'}},
    {type: 'text', z: 5, silent: true, x: -11, y: 1846, style: {text: 'n', fontSize: 62, fontFamily: FONT, fill: '#000', verticalAlign: 'middle', textVerticalAlign: 'middle'}},
    {type: 'text', z: 5, silent: true, x: -11, y: 3132, style: {text: 'n', fontSize: 62, fontFamily: FONT, fill: '#000', verticalAlign: 'middle', textVerticalAlign: 'middle'}}
  ]},
  series
};
const chart = echarts.init(document.getElementById('c'), null, {renderer: 'canvas'});
chart.setOption(option);
</script></body></html>
